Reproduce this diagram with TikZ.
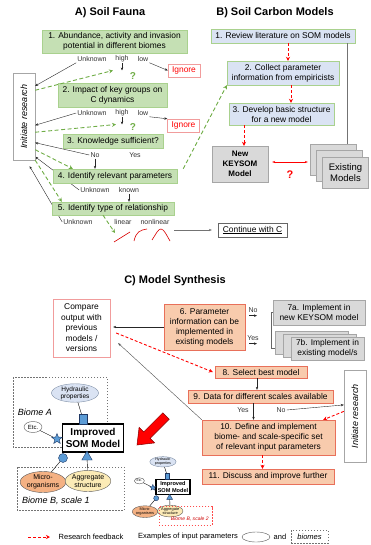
\documentclass[tikz,border=0pt]{standalone}
\usepackage{fontspec}
\setmainfont{Liberation Sans}
\usepackage{xcolor}
\usepackage{tikz}
\usetikzlibrary{
  arrows.meta,
  backgrounds,
  calc,
  positioning,
  shapes.geometric
}

\definecolor{faunafill}{HTML}{C5E0B4}
\definecolor{faunaline}{HTML}{A9D18E}
\definecolor{faunadash}{HTML}{70AD47}
\definecolor{modelfill}{HTML}{DAE3F3}
\definecolor{grayfill}{HTML}{D9D9D9}
\definecolor{grayline}{HTML}{A6A6A6}
\definecolor{synthfill}{HTML}{F8CBAD}
\definecolor{synthline}{HTML}{E8705A}
\definecolor{ignoreline}{HTML}{F19C9C}
\definecolor{hydfill}{HTML}{DAE3F3}
\definecolor{hydline}{HTML}{7F8FA6}
\definecolor{microfill}{HTML}{F4B183}
\definecolor{aggrfill}{HTML}{FCEBB6}
\definecolor{connfill}{HTML}{5B9BD5}
\definecolor{connline}{HTML}{1F3864}

% one model with its input parameters, centred on the model box
\newcommand{\somcluster}{%
  \node[som core] (som-model) at (0,0) {Improved\\SOM Model};
  \node[param, fill=hydfill, draw=hydline, minimum width=47pt, minimum height=16pt,
    font=\fontsize{6.5}{7}\selectfont] (hydraulic) at (-18,-45) {Hydraulic\\properties};
  \node[param, fill=white, minimum width=18pt, minimum height=11pt,
    font=\fontsize{6}{7}\selectfont] (etc-param) at (-60,-11) {Etc.};
  \node[param, fill=microfill, minimum width=45pt, minimum height=21pt,
    font=\fontsize{7}{8}\selectfont] (microorganisms) at (-50,44) {Micro-\\organisms};
  \node[param, fill=aggrfill, minimum width=40pt, minimum height=21pt,
    font=\fontsize{7}{8}\selectfont] (aggregates) at (-5,43) {Aggregate\\structure};
  \node[link, rectangle, minimum width=8pt, minimum height=10pt] (hydraulic-link) at (-10,-19) {};
  \node[link, star, star points=5, star point ratio=2.3, minimum size=11pt] (etc-link) at (-36,1) {};
  \node[link, circle, minimum size=9pt] (micro-link) at (-30,20) {};
  \node[link, regular polygon, regular polygon sides=3, minimum size=12pt] (aggregate-link) at (-6,19) {};
  \draw (hydraulic) -- (hydraulic-link);
  \draw (etc-param) -- (etc-link);
  \draw (micro-link) -- (microorganisms);
  \draw (aggregate-link) -- (aggregates);
}

\begin{document}
\begin{tikzpicture}[
  x=1pt, y=-1pt,
  every node/.style={font=\fontsize{8.4}{10}\selectfont, inner sep=1pt, align=center},
  title/.style={font=\fontsize{11}{13}\selectfont\bfseries},
  fauna box/.style={draw=faunaline, fill=faunafill},
  model box/.style={draw=faunaline, fill=modelfill},
  gray box/.style={draw=grayline, fill=grayfill},
  synth box/.style={draw=synthline, fill=synthfill},
  ignore box/.style={draw=ignoreline, fill=white, text=red, minimum width=32pt, minimum height=13pt},
  init box/.style={draw=grayline, fill=white, minimum width=22pt},
  outcome/.style={font=\fontsize{7}{8}\selectfont, text=black!80},
  unsure/.style={font=\fontsize{10}{11}\selectfont\bfseries},
  tip/.style={-{Stealth[length=3pt, width=2.4pt]}, line width=0.4pt, black!85},
  feedback/.style={red, line width=0.9pt, dash pattern=on 3pt off 2pt, -{Stealth[length=4pt, width=4pt]}},
  green feedback/.style={faunadash, line width=0.9pt, dash pattern=on 4pt off 2.5pt, -{Stealth[length=4pt, width=4pt]}},
  curve/.style={red!85!black, line width=0.6pt},
  som core/.style={draw, line width=1.3pt, fill=white, minimum width=61pt, minimum height=28pt,
    font=\fontsize{10}{11.5}\selectfont\bfseries},
  param/.style={ellipse, draw=black!65, inner sep=0pt},
  link/.style={fill=connfill, draw=connline, inner sep=0pt},
  biome frame/.style={draw=black!55, dash pattern=on 1.5pt off 1.5pt},
  biome label/.style={font=\fontsize{9}{10}\selectfont\itshape},
  legend text/.style={font=\fontsize{7.5}{8.5}\selectfont}
]
\useasboundingbox (0,0) rectangle (370,545);

% A) soil fauna
\node[title] (fauna-title) at (110,13) {A) Soil Fauna};
\node[fauna box, minimum width=145pt, minimum height=23pt] (abundance) at (114.5,41.5) {1. Abundance, activity and invasion\\potential in different biomes};
\node[fauna box, minimum width=109pt, minimum height=24pt] (impact) at (112.5,95) {2. Impact of key groups on\\C dynamics};
\node[fauna box, minimum width=100pt, minimum height=14pt] (sufficient) at (113,141) {3. Knowledge sufficient?};
\node[fauna box, minimum width=124pt, minimum height=14pt] (parameters) at (115,176) {4. Identify relevant parameters};
\node[fauna box, minimum width=122pt, minimum height=13pt] (relationship) at (113,208.5) {5. Identify type of relationship};
\node[init box, minimum height=87pt] (init-fauna) at (24,116.5) {\rotatebox{90}{\fontsize{9}{10}\selectfont\itshape Initiate research}};
\node[ignore box] (ignore-1) at (184,70.5) {Ignore};
\node[ignore box] (ignore-2) at (183.5,125.5) {Ignore};

\node[outcome] (unknown-1) at (92,59) {Unknown};
\node[outcome] (high-1) at (122,59) {high};
\node[outcome] (low-1) at (143,59) {low};
\node[outcome] (unknown-2) at (92,113) {Unknown};
\node[outcome] (high-2) at (122,113) {high};
\node[outcome] (low-2) at (143,113) {low};
\node[outcome] (no-3) at (95,155) {No};
\node[outcome] (yes-3) at (135,155) {Yes};
\node[outcome] (unknown-4) at (95,190) {Unknown};
\node[outcome] (known-4) at (129,190) {known};
\node[outcome] (unknown-5) at (78,222) {Unknown};
\node[outcome] (linear-5) at (123,222) {linear};
\node[outcome] (nonlinear-5) at (155,222) {nonlinear};
\node[unsure, text=faunadash] (unsure-1) at (133,76) {?};
\node[unsure, text=faunadash] (unsure-2) at (133,127) {?};

\draw[tip] (high-1.south) -- ++(0,7) coordinate (high-1-end);
\draw[tip] (high-2.south) -- ++(0,7) coordinate (high-2-end);
\draw[tip] (low-1.south east) -- (ignore-1.west);
\draw[tip] (low-2.south east) -- (ignore-2.north west);
\draw[tip] (no-3.south) -- (no-3.south |- parameters.north);
\draw[tip] (known-4.south) -- (known-4.south |- relationship.north);

\draw[tip] (unknown-1.south west) -- ($(init-fauna.north east)!0.15!(init-fauna.south east)$);
\draw[tip] (unknown-2.west) -- ($(init-fauna.north east)!0.6!(init-fauna.south east)$);
\draw[tip] (no-3.west) -- ($(init-fauna.north east)!0.8!(init-fauna.south east)$);
\begin{scope}[on background layer]
\draw[tip] (unknown-4.west) -- ($(init-fauna.north east)!0.96!(init-fauna.south east)$);
\draw[tip] (unknown-5.west) -- ($(init-fauna.south)!0.5!(init-fauna.south east)+(0,6)$);
\end{scope}

\draw[green feedback] ($(init-fauna.north east)!0.2!(init-fauna.south east)$) -- ($(high-1-end)+(-9,0)$);
\draw[green feedback] ($(init-fauna.north east)!0.68!(init-fauna.south east)$) -- ($(high-2-end)+(-6,0)$);
\draw[green feedback] ($(init-fauna.north east)!0.88!(init-fauna.south east)$) -- ($(parameters.north west)+(20,0)$);
\draw[green feedback] (init-fauna.south east) -- ($(relationship.north west)+(10,0)$);

\coordinate (linear-curve) at (115,233);
\draw[green feedback] ($(relationship.south)+(-10,0)$) -- (linear-curve);
\draw[curve] (114,242) -- (130,232);
\draw[curve] (134,241) .. controls (136,232) and (140,230) .. (147,229);
\draw[curve] (152,240) .. controls (156,234) and (158,229) .. (161,229) .. controls (164,229) and (167,236) .. (170,241);

\node[draw=black!60, minimum width=69pt, minimum height=14pt] (continue) at (252.5,230) {\underline{Continue with C}};
\coordinate (relation-out) at (174,230);
\draw[tip, black!55] (relation-out) -- ($(continue.west)+(-6,0)$);

% B) soil carbon models
\node[title] (carbon-title) at (275,13) {B) Soil Carbon Models};
\node[model box, minimum width=144pt, minimum height=14pt] (review) at (283,36) {1. Review literature on SOM models};
\node[model box, minimum width=112pt, minimum height=24pt] (collect) at (283,73) {2. Collect parameter\\information from empiricists};
\node[model box, minimum width=105pt, minimum height=22pt] (develop) at (281.5,114) {3. Develop basic structure\\for a new model};
\node[gray box, minimum width=56pt, minimum height=36pt, font=\fontsize{8}{10}\selectfont\bfseries] (keysom) at (240,164) {New\\KEYSOM\\Model};
\node[gray box, minimum width=46pt, minimum height=31pt] (existing-back) at (333,159.5) {};
\node[gray box, minimum width=46pt, minimum height=31pt] (existing-mid) at (339,166) {};
\node[gray box, minimum width=46pt, minimum height=31pt, font=\fontsize{9.5}{11}\selectfont] (existing) at (345.5,172.5) {Existing\\Models};
\node[unsure, text=red, font=\fontsize{11}{12}\selectfont\bfseries] (mismatch) at (290,175) {?};

\draw[black!55] ($(review.south east)+(-8,0)$) -- ($(review.south east |- existing-back.north)+(-8,0)$);
\draw[feedback] ($(review.south)+(5,0)$) -- ($(review.south |- collect.north)+(5,0)$);
\draw[feedback] ($(collect.south)+(8,0)$) -- ($(collect.south |- develop.north)+(8,0)$);
\draw[feedback] ($(keysom.north |- develop.south)+(4,0)$) -- ($(keysom.north)+(4,0)$);
\draw[red, line width=0.6pt, {Stealth[length=3pt]}-{Stealth[length=3pt]}] ($(keysom.east)+(4,-2)$) -- ($(keysom.east -| existing-back.west)+(-2,-2)$);
\draw[green feedback] ($(parameters.north east)+(6,0)$) -- (collect.south west);

% C) model synthesis
\node[title] (synthesis-title) at (175,281) {C) Model Synthesis};
\node[draw=ignoreline, fill=white, minimum width=57pt, minimum height=58pt, font=\fontsize{8.4}{10.5}\selectfont] (compare) at (81.5,328) {Compare\\output with\\previous\\models /\\versions};
\node[synth box, minimum width=81pt, minimum height=46pt] (implementable) at (204.5,327) {6. Parameter\\information can be\\implemented in\\existing models};
\node[gray box, minimum width=92pt, minimum height=25pt] (implement-new) at (319,312.5) {7a. Implement in\\new KEYSOM model};
\node[gray box, minimum width=73pt, minimum height=23pt] (implement-old-back) at (311.5,342.5) {};
\node[gray box, minimum width=73pt, minimum height=23pt] (implement-old-mid) at (319.5,345.5) {};
\node[gray box, minimum width=73pt, minimum height=23pt] (implement-old) at (327.5,348.5) {7b. Implement in\\existing model/s};
\node[synth box, minimum width=92pt, minimum height=12pt] (select) at (261,372) {8. Select best model};
\node[synth box, minimum width=145pt, minimum height=13pt] (scales) at (260.5,396.5) {9. Data for different scales available};
\node[synth box, minimum width=133pt, minimum height=35pt] (define) at (268.5,437.5) {10. Define and implement\\biome- and scale-specific set\\of relevant input parameters};
\node[synth box, minimum width=132pt, minimum height=15pt] (discuss) at (268,476.5) {11. Discuss and improve further};
\node[init box, minimum height=92pt] (init-synth) at (355,416) {\rotatebox{90}{\fontsize{9}{10}\selectfont\itshape Initiate research}};

\node[outcome] (no-6) at (253,310) {No};
\node[outcome] (yes-6) at (253,338) {Yes};
\node[outcome] (yes-9) at (243,410) {Yes};
\node[outcome] (no-9) at (281,410) {No};

\draw[tip] ($(no-6.south)+(-4,2)$) -- ++(8,0);
\draw[tip] ($(yes-6.south)+(-4,2)$) -- ++(8,0);
\draw[black!60] (implement-new.west) -- ++(-2,0) |- ($(implement-old-back.west)!0.5!(implement-old-back.south west)$);
\draw[tip] (implementable.west) -- ($(implementable.west -| compare.east)+(3,0)$);
\draw[feedback] ($(compare.east)+(6,5)$) -- ($(select.west)+(-2,0)$);
\draw[tip] ($(select.south)+(-4,0)$) -- ($(select.south |- scales.north)+(-4,0)$);
\draw[tip] ($(scales.south)+(-7,0)$) -- ($(scales.south |- define.north)+(-7,0)$);
\draw[tip] (no-9.east) -- ($(init-synth.north west)!0.38!(init-synth.south west)$);
\draw[feedback] ($(init-synth.north west)!0.45!(init-synth.south west)$) -- ($(define.north east)+(-12,0)$);
\draw[feedback] ($(define.south)+(-6,0)$) -- ($(define.south |- discuss.north)+(-6,0)$);
\draw[tip, black!70] (define.north west) -- ($(compare.south east)+(8,-14)$);

% biomes
\begin{scope}[on background layer]
\draw[biome frame] (13,377) rectangle (107,447);
\draw[biome frame] (17,467) rectangle (124,510);
\end{scope}
\node[biome label] (biome-a) at (35,412) {Biome A};
\node[biome label] (biome-b) at (56,501) {Biome B, scale 1};

\begin{scope}[shift={(93,438)}]
\somcluster
\end{scope}

\begin{scope}[shift={(173,487)}, scale=0.56, transform shape, name prefix=small-]
\somcluster
\node[biome label, text=red!80!black] (biome-b-2) at (30,57) {Biome B, scale 2};
\draw[red!70, dash pattern=on 1.5pt off 1.5pt] (-25,35) rectangle (70,68);
\end{scope}

\filldraw[fill=red, draw=red!50!black, line width=0.5pt] (162.8,412.8) -- (143.7,431.9) -- (139.1,427.3) -- (137,445) -- (154.7,442.9) -- (150.1,438.3) -- (169.2,419.2) -- cycle;

% legend
\coordinate (legend-start) at (28,537);
\coordinate (legend-end) at (50,537);
\draw[feedback] (legend-start) -- (legend-end);
\node[legend text] (legend-feedback) at (91,537) {Research feedback};
\node[legend text] (legend-params) at (188,537) {Examples of input parameters};
\node[param, minimum width=28pt, minimum height=10pt] (legend-ellipse) at (256,537) {};
\node[legend text] (legend-and) at (280,537) {and};
\node[biome frame, minimum width=37pt, minimum height=13pt, font=\fontsize{7.5}{8.5}\selectfont\itshape] (legend-biomes) at (309.5,536.5) {biomes};
\end{tikzpicture}
\end{document}
